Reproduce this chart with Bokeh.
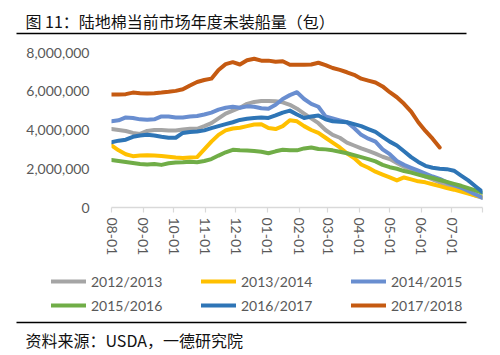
from bokeh.plotting import figure
from bokeh.layouts import column
from bokeh.models import (Legend, LegendItem, FixedTicker, NumeralTickFormatter)
from bokeh.core.properties import value
from bokeh.embed import file_html
from bokeh.resources import INLINE

# ---- data (weekly readings, millions of bales, week k = day 7k from Aug 1) ----
days = [7 * k for k in range(53)]
tick_days = [0, 31, 61, 92, 122, 153, 184, 212, 243, 273, 304, 334, 364]
tick_labels = ["08-01", "09-01", "10-01", "11-01", "12-01", "01-01", "02-01",
               "03-01", "04-01", "05-01", "06-01", "07-01", ""]
y_ticks = [0, 2000000, 4000000, 6000000, 8000000]

s1213 = [4.05, 4.0, 3.95, 3.85, 3.8, 3.95, 4.0, 4.0, 3.98, 3.97, 4.03, 4.06, 4.06,
         4.2, 4.35, 4.6, 4.85, 5.0, 5.15, 5.35, 5.45, 5.5, 5.5, 5.48, 5.43, 5.3,
         5.1, 4.85, 4.6, 4.35, 4.0, 3.75, 3.6, 3.35, 3.2, 3.05, 2.92, 2.78, 2.62,
         2.5, 2.3, 2.1, 1.95, 1.8, 1.6, 1.45, 1.3, 1.15, 1.0, 0.9, 0.75, 0.62, 0.5]
s1314 = [3.2, 2.95, 2.75, 2.65, 2.68, 2.7, 2.68, 2.66, 2.62, 2.58, 2.55, 2.58, 2.6,
         3.0, 3.4, 3.75, 3.98, 4.08, 4.12, 4.2, 4.28, 4.3, 4.1, 4.05, 4.2, 4.5,
         4.45, 4.2, 4.0, 3.85, 3.6, 3.35, 3.1, 2.8, 2.55, 2.22, 2.05, 1.85, 1.7,
         1.55, 1.4, 1.55, 1.45, 1.35, 1.3, 1.2, 1.1, 1.0, 0.92, 0.82, 0.72, 0.62, 0.55]
s1415 = [4.45, 4.5, 4.65, 4.62, 4.55, 4.53, 4.55, 4.7, 4.7, 4.65, 4.65, 4.7, 4.72,
         4.8, 4.9, 5.05, 5.15, 5.2, 5.15, 5.22, 5.2, 5.12, 5.1, 5.3, 5.6, 5.8,
         5.95, 5.6, 5.35, 5.2, 4.7, 4.6, 4.5, 4.4, 4.1, 3.75, 3.55, 3.4, 3.0,
         2.75, 2.4, 2.2, 2.05, 1.9, 1.75, 1.6, 1.48, 1.3, 1.15, 1.02, 0.85, 0.68, 0.5]
s1516 = [2.45, 2.4, 2.35, 2.3, 2.25, 2.22, 2.25, 2.2, 2.28, 2.32, 2.33, 2.36, 2.34,
         2.4, 2.5, 2.68, 2.85, 2.98, 2.95, 2.94, 2.92, 2.88, 2.8, 2.9, 2.98, 2.95,
         2.95, 3.05, 3.1, 3.02, 3.0, 2.95, 2.88, 2.8, 2.7, 2.6, 2.5, 2.38, 2.2,
         2.08, 2.0, 1.88, 1.8, 1.7, 1.6, 1.52, 1.42, 1.32, 1.22, 1.12, 1.0, 0.88, 0.75]
s1617 = [3.37, 3.45, 3.5, 3.65, 3.72, 3.75, 3.72, 3.65, 3.6, 3.6, 3.85, 3.9, 3.92,
         3.98, 4.1, 4.2, 4.3, 4.4, 4.52, 4.58, 4.62, 4.65, 4.62, 4.75, 4.9, 5.0,
         4.8, 4.62, 4.7, 4.75, 4.55, 4.45, 4.42, 4.4, 4.3, 4.2, 4.05, 3.9, 3.65,
         3.4, 3.2, 2.9, 2.6, 2.35, 2.15, 2.05, 2.0, 1.98, 1.9, 1.65, 1.4, 1.1, 0.8]
s1718 = [5.83, 5.83, 5.85, 5.93, 5.9, 5.88, 5.9, 5.93, 5.97, 6.02, 6.1, 6.3, 6.48,
         6.58, 6.65, 7.1, 7.4, 7.5, 7.38, 7.6, 7.68, 7.58, 7.58, 7.52, 7.55, 7.37,
         7.37, 7.37, 7.38, 7.47, 7.35, 7.2, 7.1, 6.98, 6.85, 6.65, 6.55, 6.45, 6.25,
         5.95, 5.69, 5.35, 4.95, 4.4, 3.95, 3.55, 3.1]

series_names = ["2012/2013", "2013/2014", "2014/2015", "2015/2016", "2016/2017", "2017/2018"]
series_vals = [s1213, s1314, s1415, s1516, s1617, s1718]
colors = ["#A5A5A5", "#FFC000", "#698ED0", "#70AD47", "#2E75B6", "#C55A11"]

title_text = "图 11：陆地棉当前市场年度未装船量（包）"
source_text = "资料来源：USDA，一德研究院"

W = 500
TOP_H, MAIN_H, BOT_H = 40, 218, 97


def blank_fig(h):
    f = figure(width=W, height=h, output_backend="svg", toolbar_location=None,
               x_range=(0, W), y_range=(h, 0), x_axis_type=None, y_axis_type=None,
               min_border=0, min_border_left=0, min_border_right=0,
               min_border_top=0, min_border_bottom=0, frame_align=False,
               background_fill_color="white", border_fill_color="white")
    f.outline_line_color = None
    f.xgrid.grid_line_color = None
    f.ygrid.grid_line_color = None
    return f


# ---- top: title + rule ----
top = blank_fig(TOP_H)
top.text(x=[25], y=[20.5], text=[title_text], text_font=value("Noto Sans CJK SC"),
         text_font_size="16px", text_color="#111111", text_baseline="middle")
top.segment(x0=[16], y0=[33], x1=[466], y1=[33], line_color="black", line_width=1.6)

# ---- main chart ----
p = figure(width=W, height=MAIN_H, output_backend="svg", toolbar_location=None,
           x_range=(0, 364), y_range=(0, 8000000), frame_align=False,
           min_border_left=111, min_border_right=18, min_border_top=12, min_border_bottom=51,
           background_fill_color="white", border_fill_color="white")
p.outline_line_color = None
p.xgrid.grid_line_color = None
p.ygrid.grid_line_color = None

for name, vals, c in zip(series_names, series_vals, colors):
    xs = days[:len(vals)]
    ys = [v * 1e6 for v in vals]
    p.line(xs, ys, line_color=c, line_width=4, line_join="round", line_cap="round")

yax = p.yaxis[0]
yax.ticker = FixedTicker(ticks=y_ticks)
yax.formatter = NumeralTickFormatter(format="0,0")
yax.axis_line_color = None
yax.major_tick_line_color = None
yax.minor_tick_line_color = None
yax.major_label_standoff = 16
yax.major_label_text_font = "Lato"
yax.major_label_text_font_size = "14px"
yax.major_label_text_color = "#595959"

xax = p.xaxis[0]
xax.ticker = FixedTicker(ticks=tick_days)
xax.major_label_overrides = {d: l for d, l in zip(tick_days, tick_labels)}
xax.major_label_orientation = "vertical"
xax.axis_line_color = "#D9D9D9"
xax.axis_line_width = 1.5
xax.major_tick_line_color = "#D9D9D9"
xax.major_tick_line_width = 1.2
xax.major_tick_in = 0
xax.major_tick_out = 5
xax.minor_tick_line_color = None
xax.major_label_standoff = 5
xax.major_label_text_font = "Lato"
xax.major_label_text_font_size = "14px"
xax.major_label_text_color = "#595959"

# ---- bottom: legend + rule + source ----
bot = blank_fig(BOT_H)
# legend glyph carriers: the same series, far outside this panel's visible range
leg_renderers = [bot.line(days[:len(v)], [x * 1e6 for x in v], line_color=c, line_width=4,
                          line_cap="round")
                 for v, c in zip(series_vals, colors)]
items = [LegendItem(label=n, renderers=[r]) for n, r in zip(series_names, leg_renderers)]
legend = Legend(items=items, location=(51, BOT_H - 57), orientation="horizontal",
                ncols=3, glyph_width=35, glyph_height=20, label_standoff=5,
                label_width=106, label_height=20, spacing=4, padding=0, margin=0,
                border_line_color=None, background_fill_alpha=0,
                label_text_font="Lato", label_text_font_size="14px",
                label_text_color="#595959")
bot.add_layout(legend)
bot.segment(x0=[16], y0=[64], x1=[466], y1=[64], line_color="black", line_width=1.6)
bot.text(x=[25], y=[81], text=[source_text], text_font=value("Noto Sans CJK SC"),
         text_font_size="16px", text_color="#111111", text_baseline="middle")

layout = column(top, p, bot, spacing=0)
open("out.html", "w").write(file_html(layout, INLINE))
